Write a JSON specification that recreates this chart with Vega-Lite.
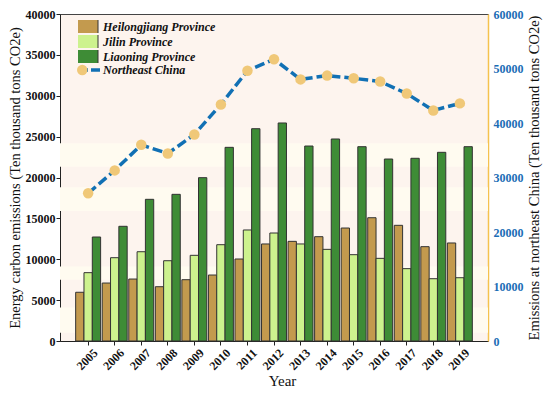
{
  "$schema": "https://vega.github.io/schema/vega-lite/v6.json",
  "width": 428,
  "height": 327,
  "autosize": {"type": "none"},
  "padding": {"left": 60, "top": 14, "right": 62, "bottom": 54},
  "background": "white",
  "config": {
    "view": {"stroke": "#444", "strokeWidth": 1, "fill": "#fdf4ee"},
    "font": "Liberation Serif"
  },
  "datasets": {
    "bands": [
      {"lo": 1000, "hi": 4100},
      {"lo": 7500, "hi": 9100},
      {"lo": 15900, "hi": 18800},
      {"lo": 21300, "hi": 24200}
    ],
    "bars": [
      {"Year": "2005", "Province": "Heilongjiang Province", "Emissions": 5960},
      {"Year": "2005", "Province": "Jilin Province", "Emissions": 8360},
      {"Year": "2005", "Province": "Liaoning Province", "Emissions": 12720},
      {"Year": "2006", "Province": "Heilongjiang Province", "Emissions": 7090},
      {"Year": "2006", "Province": "Jilin Province", "Emissions": 10190},
      {"Year": "2006", "Province": "Liaoning Province", "Emissions": 14030},
      {"Year": "2007", "Province": "Heilongjiang Province", "Emissions": 7580},
      {"Year": "2007", "Province": "Jilin Province", "Emissions": 10920},
      {"Year": "2007", "Province": "Liaoning Province", "Emissions": 17330},
      {"Year": "2008", "Province": "Heilongjiang Province", "Emissions": 6640},
      {"Year": "2008", "Province": "Jilin Province", "Emissions": 9820},
      {"Year": "2008", "Province": "Liaoning Province", "Emissions": 17940},
      {"Year": "2009", "Province": "Heilongjiang Province", "Emissions": 7500},
      {"Year": "2009", "Province": "Jilin Province", "Emissions": 10480},
      {"Year": "2009", "Province": "Liaoning Province", "Emissions": 19980},
      {"Year": "2010", "Province": "Heilongjiang Province", "Emissions": 8070},
      {"Year": "2010", "Province": "Jilin Province", "Emissions": 11780},
      {"Year": "2010", "Province": "Liaoning Province", "Emissions": 23690},
      {"Year": "2011", "Province": "Heilongjiang Province", "Emissions": 10030},
      {"Year": "2011", "Province": "Jilin Province", "Emissions": 13580},
      {"Year": "2011", "Province": "Liaoning Province", "Emissions": 25970},
      {"Year": "2012", "Province": "Heilongjiang Province", "Emissions": 11870},
      {"Year": "2012", "Province": "Jilin Province", "Emissions": 13210},
      {"Year": "2012", "Province": "Liaoning Province", "Emissions": 26670},
      {"Year": "2013", "Province": "Heilongjiang Province", "Emissions": 12190},
      {"Year": "2013", "Province": "Jilin Province", "Emissions": 11870},
      {"Year": "2013", "Province": "Liaoning Province", "Emissions": 23850},
      {"Year": "2014", "Province": "Heilongjiang Province", "Emissions": 12760},
      {"Year": "2014", "Province": "Jilin Province", "Emissions": 11210},
      {"Year": "2014", "Province": "Liaoning Province", "Emissions": 24710},
      {"Year": "2015", "Province": "Heilongjiang Province", "Emissions": 13820},
      {"Year": "2015", "Province": "Jilin Province", "Emissions": 10560},
      {"Year": "2015", "Province": "Liaoning Province", "Emissions": 23770},
      {"Year": "2016", "Province": "Heilongjiang Province", "Emissions": 15080},
      {"Year": "2016", "Province": "Jilin Province", "Emissions": 10110},
      {"Year": "2016", "Province": "Liaoning Province", "Emissions": 22260},
      {"Year": "2017", "Province": "Heilongjiang Province", "Emissions": 14150},
      {"Year": "2017", "Province": "Jilin Province", "Emissions": 8850},
      {"Year": "2017", "Province": "Liaoning Province", "Emissions": 22350},
      {"Year": "2018", "Province": "Heilongjiang Province", "Emissions": 11540},
      {"Year": "2018", "Province": "Jilin Province", "Emissions": 7620},
      {"Year": "2018", "Province": "Liaoning Province", "Emissions": 23080},
      {"Year": "2019", "Province": "Heilongjiang Province", "Emissions": 11990},
      {"Year": "2019", "Province": "Jilin Province", "Emissions": 7740},
      {"Year": "2019", "Province": "Liaoning Province", "Emissions": 23770}
    ],
    "total": [
      {"Year": "2005", "Total": 27100, "Series": "Northeast China", "Dot": "Northeast China"},
      {"Year": "2006", "Total": 31300, "Series": "Northeast China", "Dot": "Northeast China"},
      {"Year": "2007", "Total": 36000, "Series": "Northeast China", "Dot": "Northeast China"},
      {"Year": "2008", "Total": 34400, "Series": "Northeast China", "Dot": "Northeast China"},
      {"Year": "2009", "Total": 37900, "Series": "Northeast China", "Dot": "Northeast China"},
      {"Year": "2010", "Total": 43400, "Series": "Northeast China", "Dot": "Northeast China"},
      {"Year": "2011", "Total": 49600, "Series": "Northeast China", "Dot": "Northeast China"},
      {"Year": "2012", "Total": 51700, "Series": "Northeast China", "Dot": "Northeast China"},
      {"Year": "2013", "Total": 48000, "Series": "Northeast China", "Dot": "Northeast China"},
      {"Year": "2014", "Total": 48700, "Series": "Northeast China", "Dot": "Northeast China"},
      {"Year": "2015", "Total": 48200, "Series": "Northeast China", "Dot": "Northeast China"},
      {"Year": "2016", "Total": 47600, "Series": "Northeast China", "Dot": "Northeast China"},
      {"Year": "2017", "Total": 45400, "Series": "Northeast China", "Dot": "Northeast China"},
      {"Year": "2018", "Total": 42300, "Series": "Northeast China", "Dot": "Northeast China"},
      {"Year": "2019", "Total": 43600, "Series": "Northeast China", "Dot": "Northeast China"}
    ]
  },
  "layer": [
    {
      "layer": [
        {
          "data": {"name": "bands"},
          "mark": {"type": "rect", "color": "#fffbf0"},
          "encoding": {
            "y": {"field": "lo", "type": "quantitative", "scale": {"domain": [0, 40000], "nice": false}},
            "y2": {"field": "hi"}
          }
        },
        {
          "data": {"name": "bars"},
          "mark": {"type": "bar", "stroke": "#333333", "strokeWidth": 1},
          "encoding": {
            "x": {
              "field": "Year", "type": "ordinal",
              "scale": {"paddingInner": 0.06, "paddingOuter": 0.59},
              "axis": {
                "title": "Year", "titleFont": "Liberation Serif", "titleFontSize": 15, "titleFontWeight": "normal", "titleColor": "#111",
                "titleX": 222, "titlePadding": 2,
                "labelAngle": -45, "labelFont": "Liberation Serif", "labelFontSize": 12, "labelFontWeight": "bold", "labelColor": "#111",
                "labelOffset": 4,
                "domainColor": "#222", "tickColor": "#222", "tickSize": 4, "labelPadding": 2
              }
            },
            "xOffset": {"field": "Province", "sort": ["Heilongjiang Province", "Jilin Province", "Liaoning Province"]},
            "y": {
              "field": "Emissions", "type": "quantitative",
              "scale": {"domain": [0, 40000], "nice": false},
              "axis": {
                "title": "Energy carbon emissions (Ten thousand tons CO2e)",
                "titleFont": "Liberation Serif", "titleFontSize": 14.5, "titleFontWeight": "normal", "titleColor": "#111", "titlePadding": 3,
                "values": [0, 2500, 5000, 7500, 10000, 12500, 15000, 17500, 20000, 22500, 25000, 27500, 30000, 32500, 35000, 37500, 40000],
                "format": "d",
                "labelExpr": "datum.value % 5000 === 0 ? datum.label : ''",
                "labelFont": "Liberation Serif", "labelFontSize": 12, "labelFontWeight": "bold", "labelColor": "#111",
                "tickSize": 4, "labelPadding": 1, "domainColor": "#222", "tickColor": "#222", "grid": false,
                "encoding": {"ticks": {"update": {"x2": {"signal": "datum.value % 5000 === 0 ? -5 : -3"}}}}
              }
            },
            "fill": {
              "field": "Province", "type": "nominal",
              "scale": {"domain": ["Heilongjiang Province", "Jilin Province", "Liaoning Province"], "range": ["#c39a4e", "#cdf28e", "#3e8c36"]},
              "legend": {
                "title": null, "orient": "none", "legendX": 18, "legendY": 6, "padding": 0,
                "symbolType": "M-4,-2H4V2H-4Z", "symbolSize": 49, "symbolStrokeColor": "#333", "symbolStrokeWidth": 1, "symbolOffset": 0,
                "labelFont": "Liberation Serif", "labelFontSize": 12, "labelFontStyle": "italic", "labelFontWeight": "bold", "labelColor": "#111",
                "labelOffset": 13, "rowPadding": 2, "clipHeight": 13
              }
            }
          }
        }
      ]
    },
    {
      "data": {"name": "total"},
      "layer": [
        {
          "mark": {"type": "line", "strokeWidth": 3.5, "strokeDash": [10, 4]},
          "encoding": {
            "x": {"field": "Year", "type": "ordinal"},
            "y": {
              "field": "Total", "type": "quantitative",
              "scale": {"domain": [0, 60000], "nice": false},
              "axis": {
                "orient": "right",
                "title": "Emissions at northeast China (Ten thousand tons CO2e)",
                "titleFont": "Liberation Serif", "titleFontSize": 14.5, "titleFontWeight": "normal", "titleColor": "#111",
                "titleAngle": 270, "titleBaseline": "top", "titlePadding": 4,
                "values": [0, 10000, 20000, 30000, 40000, 50000, 60000], "format": "d",
                "labelFont": "Liberation Serif", "labelFontSize": 12, "labelFontWeight": "bold", "labelColor": "#1b6db5",
                "domainColor": "#f5c24e", "domainWidth": 1.5, "tickColor": "#f5c24e", "tickWidth": 1.5, "tickSize": 0, "labelPadding": 5,
                "grid": false,
                "encoding": {"ticks": {"update": {"x2": {"value": -5}}}}
              }
            },
            "stroke": {
              "field": "Series", "type": "nominal",
              "scale": {"range": ["#1170b4"]},
              "legend": {
                "title": null, "orient": "none", "legendX": 18, "legendY": 49.5, "padding": 0,
                "symbolType": "M-4.86,0H4.86", "symbolSize": 49, "symbolStrokeWidth": 3.5, "symbolDash": [9, 3], "symbolOffset": 0,
                "labelFont": "Liberation Serif", "labelFontSize": 12, "labelFontStyle": "italic", "labelFontWeight": "bold", "labelColor": "#111",
                "labelOffset": 13, "clipHeight": 13
              }
            }
          }
        },
        {
          "mark": {"type": "point", "filled": true, "size": 110, "opacity": 1},
          "encoding": {
            "x": {"field": "Year", "type": "ordinal"},
            "y": {"field": "Total", "type": "quantitative"},
            "color": {
              "field": "Dot", "type": "nominal",
              "scale": {"range": ["#f0c878"]},
              "legend": {
                "title": null, "orient": "none", "legendX": 16.25, "legendY": 49.5, "padding": 0,
                "symbolType": "circle", "symbolSize": 110, "symbolOffset": 0, "symbolStrokeWidth": 0, "symbolOpacity": 1,
                "labelExpr": "''", "labelFontSize": 12, "clipHeight": 13
              }
            }
          }
        }
      ]
    }
  ],
  "resolve": {"scale": {"y": "independent"}}
}
